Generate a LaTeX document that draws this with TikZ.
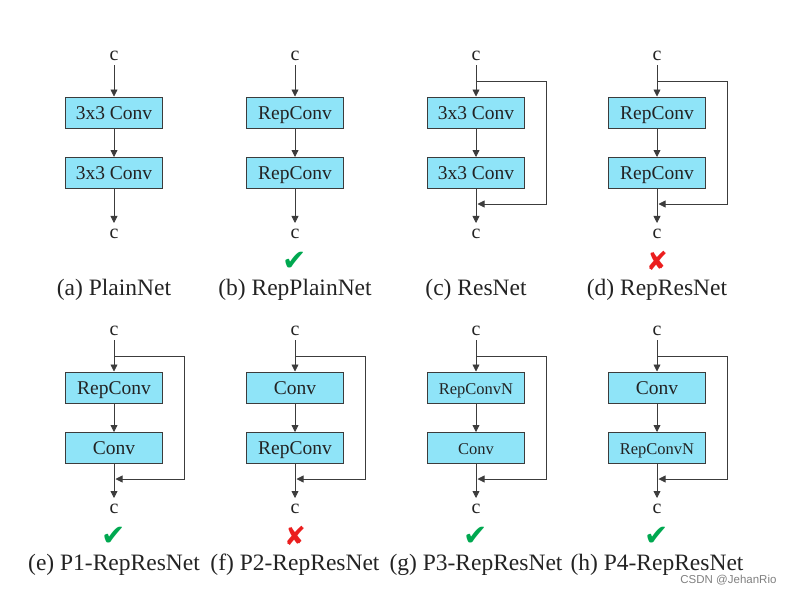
\documentclass[tikz,border=0pt]{standalone}
\usepackage{fontspec}
\setmainfont{Liberation Serif}
\newfontfamily\symfont{DejaVu Sans}
\newfontfamily\wmfont{Liberation Sans}
\usepackage{xcolor}
\usetikzlibrary{arrows.meta, positioning, calc}

\definecolor{convfill}{RGB}{143,228,248}
\definecolor{linegray}{RGB}{60,60,60}
\definecolor{inkgray}{RGB}{35,35,35}
\definecolor{okgreen}{RGB}{0,168,80}
\definecolor{nored}{RGB}{235,30,30}
\newcommand{\okmark}{\textcolor{okgreen}{\symfont\fontsize{29}{29}\selectfont ✔}}
\newcommand{\nomark}{\textcolor{nored}{\symfont\fontsize{26}{26}\selectfont ✘}}
\newcommand{\smallconv}[1]{{\fontsize{16.5}{18}\selectfont #1}}

\begin{document}
\begin{tikzpicture}[
    x=1pt, y=-1pt,
    every node/.style={text=inkgray},
    conv/.style={rectangle, draw=linegray, fill=convfill, line width=1pt,
                 minimum width=97pt, minimum height=31pt, inner sep=0pt,
                 text height=16pt, text depth=3pt,
                 font=\fontsize{19.5}{22}\selectfont},
    chan/.style={inner sep=0pt, font=\fontsize{20}{22}\selectfont},
    caption/.style={font=\fontsize{23.5}{26}\selectfont},
    arr/.style={-{Triangle[length=7pt, width=7pt]}, color=linegray, line width=0.8pt}
]
    \useasboundingbox (0,0) rectangle (794,592);

    % one column per variant
    \foreach \n/\x/\y/\first/\second/\cap in {
        a/114/0/{3x3 Conv}/{3x3 Conv}/{(a) PlainNet},
        b/295/0/{RepConv}/{RepConv}/{(b) RepPlainNet},
        c/476/0/{3x3 Conv}/{3x3 Conv}/{(c) ResNet},
        d/657/0/{RepConv}/{RepConv}/{(d) RepResNet},
        e/114/275/{RepConv}/{Conv}/{(e) P1-RepResNet},
        f/295/275/{Conv}/{RepConv}/{(f) P2-RepResNet},
        g/476/275/{\smallconv{RepConvN}}/{\smallconv{Conv}}/{(g) P3-RepResNet},
        h/657/275/{Conv}/{\smallconv{RepConvN}}/{(h) P4-RepResNet}} {
        \node[chan] (in\n) at (\x, 56+\y) {c};
        \node[conv] (top\n) at (\x, 112.5+\y) {\first};
        \node[conv] (bot\n) at (\x, 173+\y) {\second};
        \node[chan] (out\n) at (\x, 234+\y) {c};
        \node[caption] (cap\n) at (\x, 290+\y) {\cap};

        \draw[arr, shorten <=4pt] (in\n) -- (top\n);
        \draw[arr] (top\n) -- (bot\n);
        \draw[arr, shorten >=6pt] (bot\n) -- (out\n);
    }

    % residual branches
    \foreach \n in {c,d,e,f,g,h} {
        \coordinate (split\n) at ($(in\n)+(0,25)$);
        \coordinate (join\n) at ($(out\n)+(0,-30)$);
        \draw[arr, shorten >=1.5pt] (split\n) -- ++(70,0) |- (join\n);
    }

    % verdicts
    \foreach \n/\m in {b/\okmark, d/\nomark, e/\okmark, f/\nomark, g/\okmark, h/\okmark}
        \node (mark\n) at ($(out\n)+(0,27)$) {\m};

    \node[font=\wmfont\fontsize{11.5}{13}\selectfont, text=gray, anchor=east] (wm)
        at (780,580) {CSDN @JehanRio};
\end{tikzpicture}
\end{document}
